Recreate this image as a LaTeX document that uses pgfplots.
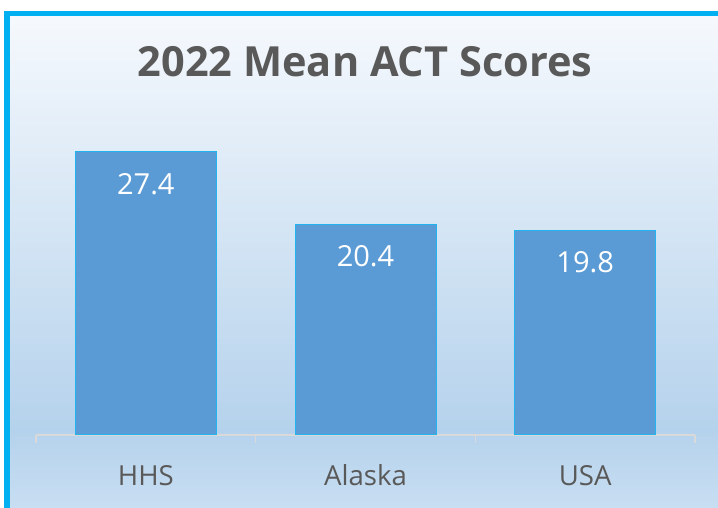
\documentclass[border=0pt]{standalone}
\usepackage{pgfplots}
\pgfplotsset{compat=1.18}
\usepackage{fontspec}
\setmainfont{Open Sans}
\definecolor{barblue}{HTML}{5B9BD5}
\definecolor{baredge}{HTML}{22B4EE}
\definecolor{framecol}{HTML}{00B0F0}
\definecolor{txt}{HTML}{595959}
\definecolor{axgray}{HTML}{D9D9D9}
\definecolor{bgbot}{RGB}{200,222,242}
\definecolor{bgdark}{RGB}{181,210,236}
\definecolor{bgtop}{RGB}{246,249,253}
\pgfdeclareverticalshading{bgshade}{100bp}{color(0bp)=(bgbot); color(25bp)=(bgbot); color(32.85bp)=(bgdark); color(75bp)=(bgtop); color(100bp)=(bgtop)}
\begin{document}
\begin{tikzpicture}[x=1pt,y=1pt]
\path[use as bounding box] (0,0) rectangle (718,508);
\fill[white] (0,0) rectangle (718,508);
\path[shading=bgshade] (7,0) rectangle (718,494.5);
\draw[framecol, line width=5.5pt] (7,-10) -- (7,494.5) -- (730,494.5);
\node[font=\fontsize{41.5}{50}\bfseries\selectfont, text=txt] at (365,446) {2022 Mean ACT Scores};
\begin{axis}[
  at={(36pt,73pt)}, anchor=south west,
  scale only axis, width=659pt, height=310pt,
  xmin=-0.5, xmax=2.5, ymin=0, ymax=30,
  enlargelimits=false,
  hide y axis,
  axis x line=bottom,
  x axis line style={draw=axgray, line width=1.5pt, -},
  xtick={0,1,2}, xticklabels={HHS,Alaska,USA},
  major tick length=0pt,
  minor xtick={-0.5,0.5,1.5,2.5},
  minor tick length=8pt,
  tick align=outside,
  every tick/.style={draw=axgray, line width=1.5pt},
  xticklabel style={font=\fontsize{27.6}{32}\selectfont, text=txt, anchor=base, yshift=-51pt},
  ybar, bar width=141pt, bar shift=0pt,
  /pgf/number format/assume math mode=true,
  nodes near coords,
  every node near coord/.append style={font=\fontsize{29}{34}\selectfont, text=white, anchor=center, yshift=-32pt},
  clip=false,
]
\addplot[fill=barblue, draw=baredge, line width=1pt] coordinates {(0,27.4) (1,20.4) (2,19.8)};
\end{axis}
\end{tikzpicture}
\end{document}
